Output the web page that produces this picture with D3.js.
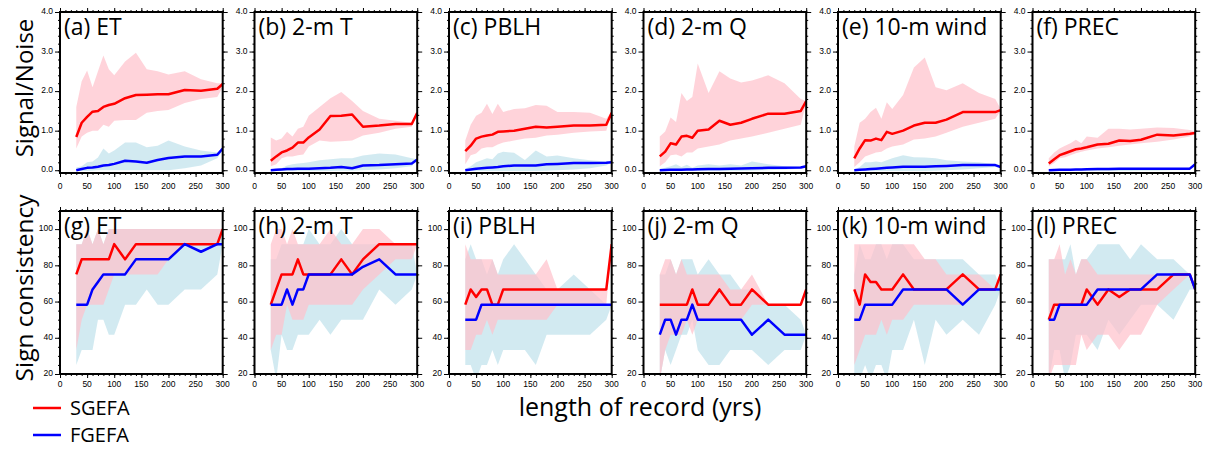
<!DOCTYPE html>
<html><head><meta charset="utf-8">
<script src="https://cdn.jsdelivr.net/npm/d3@7"></script>
<style>body{margin:0;background:#fff}svg{display:block}</style>
</head><body>
<svg id="c" width="1206" height="449"></svg>
<script>
// ---- data ----
const xs = [30,40,50,60,70,80,90,100,120,140,160,180,200,230,260,290,300];
const xTicks = [0,50,100,150,200,250,300];
const snTicks = [0,1,2,3,4];
const scTicks = [20,40,60,80,100];
const titlesTop = ["(a) ET","(b) 2-m T","(c) PBLH","(d) 2-m Q","(e) 10-m wind","(f) PREC"];
const titlesBot = ["(g) ET","(h) 2-m T","(i) PBLH","(j) 2-m Q","(k) 10-m wind","(l) PREC"];
const legendNames = ["SGEFA","FGEFA"];

// Signal/Noise : SGEFA mean / upper / lower, FGEFA mean / upper / lower
const snSG_ET   = [0.84,1.2,1.35,1.48,1.5,1.6,1.65,1.68,1.82,1.9,1.91,1.92,1.92,2.03,2.01,2.06,2.18];
const snSGhi_ET = [1.6,2.25,2.52,2.1,2.5,2.9,2.55,2.4,2.75,2.97,2.55,2.5,2.42,2.5,2.3,2.2,2.2];
const snSGlo_ET = [0.55,0.85,0.95,1.0,1.0,1.15,1.1,1.25,1.27,1.27,1.45,1.5,1.52,1.7,1.8,1.85,2.1];
const snFG_ET   = [0.0,0.03,0.06,0.07,0.09,0.12,0.13,0.16,0.24,0.22,0.19,0.26,0.31,0.35,0.35,0.39,0.55];
const snFGhi_ET = [0.07,0.1,0.2,0.22,0.32,0.55,0.42,0.5,0.7,0.7,0.58,0.62,0.75,0.6,0.5,0.45,0.55];
const snFGlo_ET = [-0.02,-0.02,-0.02,-0.01,0,0,0,0,0,0,0,0,0,0.05,0.12,0.3,0.5];

const snSG_T   = [0.24,0.35,0.45,0.5,0.57,0.7,0.7,0.83,1.03,1.37,1.38,1.41,1.1,1.13,1.17,1.17,1.45];
const snSGhi_T = [0.83,0.75,0.8,0.97,0.85,1.05,1.1,1.38,1.6,1.82,1.98,1.75,1.5,1.3,1.25,1.2,1.45];
const snSGlo_T = [0.1,0.15,0.3,0.35,0.35,0.38,0.4,0.6,0.75,0.72,0.73,0.75,0.88,0.95,1.05,1.1,1.45];
const snFG_T   = [0.0,0.01,0.02,0.03,0.03,0.04,0.04,0.04,0.05,0.06,0.08,0.05,0.12,0.13,0.15,0.17,0.27];
const snFGhi_T = [0.02,0.03,0.05,0.12,0.15,0.17,0.18,0.2,0.25,0.28,0.3,0.3,0.37,0.42,0.4,0.3,0.28];
const snFGlo_T = [-0.02,-0.02,-0.02,-0.02,-0.02,-0.02,-0.02,-0.02,-0.02,-0.02,-0.01,-0.01,0,0.02,0.05,0.1,0.25];

const snSG_P   = [0.48,0.62,0.8,0.85,0.88,0.9,0.97,0.98,1.0,1.05,1.1,1.08,1.1,1.13,1.13,1.15,1.45];
const snSGhi_P = [0.75,1.15,1.38,1.45,1.68,1.42,1.68,1.47,1.55,1.57,1.65,1.63,1.47,1.47,1.45,1.3,1.5];
const snSGlo_P = [0.15,0.38,0.42,0.55,0.58,0.58,0.65,0.7,0.75,0.8,0.82,0.88,0.9,0.95,0.98,1.0,1.45];
const snFG_P   = [0.0,0.02,0.04,0.05,0.06,0.07,0.08,0.1,0.12,0.12,0.12,0.15,0.16,0.18,0.18,0.19,0.2];
const snFGhi_P = [0.04,0.1,0.2,0.25,0.3,0.28,0.42,0.47,0.44,0.26,0.5,0.35,0.37,0.3,0.25,0.22,0.2];
const snFGlo_P = [-0.02,-0.02,-0.02,-0.02,-0.02,-0.02,-0.02,-0.02,-0.02,-0.02,-0.02,-0.01,0,0.02,0.05,0.12,0.2];

const snSG_Q   = [0.35,0.47,0.68,0.65,0.85,0.87,0.82,1.0,1.03,1.25,1.15,1.2,1.3,1.43,1.43,1.5,1.75];
const snSGhi_Q = [0.85,0.98,1.33,1.22,1.95,1.75,1.85,2.7,1.95,2.5,2.32,2.22,2.27,2.4,2.2,1.8,1.75];
const snSGlo_Q = [0.1,0.2,0.38,0.4,0.35,0.45,0.45,0.55,0.6,0.65,0.75,0.8,0.85,0.95,1.05,1.15,1.7];
const snFG_Q   = [0.0,0.005,0.01,0.01,0.015,0.02,0.02,0.025,0.03,0.03,0.04,0.045,0.05,0.06,0.06,0.07,0.1];
const snFGhi_Q = [0.03,0.06,0.1,0.15,0.08,0.14,0.06,0.12,0.15,0.12,0.15,0.12,0.22,0.15,0.1,0.09,0.1];
const snFGlo_Q = [-0.02,-0.02,-0.02,-0.02,-0.02,-0.02,-0.02,-0.02,-0.02,-0.02,-0.02,-0.02,-0.01,0,0.02,0.04,0.08];

const snSG_W   = [0.3,0.55,0.76,0.75,0.8,0.76,0.97,0.92,1.0,1.13,1.2,1.2,1.28,1.47,1.47,1.47,1.52];
const snSGhi_W = [0.6,1.2,1.3,1.47,1.58,1.3,1.72,1.55,1.9,2.6,2.85,2.1,2.02,2.2,1.95,1.8,1.55];
const snSGlo_W = [0.08,0.2,0.35,0.4,0.45,0.47,0.55,0.6,0.65,0.78,0.8,0.85,0.95,1.1,1.2,1.3,1.5];
const snFG_W   = [0.0,0.01,0.02,0.03,0.04,0.05,0.06,0.07,0.09,0.09,0.09,0.1,0.11,0.13,0.13,0.13,0.08];
const snFGhi_W = [0.02,0.08,0.2,0.2,0.22,0.2,0.25,0.3,0.38,0.33,0.32,0.3,0.25,0.22,0.2,0.15,0.1];
const snFGlo_W = [-0.02,-0.02,-0.02,-0.02,-0.02,-0.02,-0.02,-0.02,-0.02,-0.02,-0.02,-0.01,0,0.02,0.05,0.08,0.06];

const snSG_R   = [0.17,0.28,0.38,0.43,0.48,0.53,0.55,0.58,0.65,0.67,0.75,0.74,0.77,0.9,0.88,0.92,0.94];
const snSGhi_R = [0.3,0.45,0.55,0.62,0.68,0.77,0.68,0.85,0.82,1.05,1.05,1.03,1.05,1.08,1.07,1.02,0.97];
const snSGlo_R = [0.1,0.18,0.3,0.33,0.38,0.43,0.47,0.5,0.55,0.58,0.62,0.65,0.68,0.72,0.78,0.85,0.92];
const snFG_R   = [0.0,0.005,0.01,0.012,0.015,0.02,0.02,0.025,0.03,0.03,0.035,0.035,0.035,0.04,0.04,0.04,0.15];
const snFGhi_R = [0.03,0.03,0.03,0.03,0.03,0.03,0.03,0.03,0.04,0.04,0.04,0.04,0.05,0.05,0.05,0.05,0.15];
const snFGlo_R = [-0.02,-0.02,-0.02,-0.02,-0.02,-0.02,-0.02,-0.02,-0.02,-0.02,-0.02,-0.02,-0.01,-0.01,0,0,0.12];

// Sign consistency (%)
const scSG_ET   = [75,83.3,83.3,83.3,83.3,83.3,83.3,91.7,83.3,91.7,91.7,91.7,91.7,91.7,91.7,91.7,100];
const scSGhi_ET = [91.7,91.7,100,91.7,100,91.7,100,100,100,100,100,100,100,100,100,100,100];
const scSGlo_ET = [33.3,50,58.3,58.3,58.3,58.3,66.7,75,75,75,75,75,83.3,91.7,91.7,91.7,100];
const scFG_ET   = [58.3,58.3,58.3,66.7,70.8,75,75,75,75,83.3,83.3,83.3,83.3,91.7,87.5,91.7,91.7];
const scFGhi_ET = [91.7,91.7,100,91.7,100,91.7,100,100,100,100,100,100,100,100,100,100,100];
const scFGlo_ET = [25,33.3,33.3,33.3,50,50,41.7,41.7,58.3,58.3,66.7,58.3,58.3,66.7,66.7,75,91.7];

const scSG_T   = [58.3,66.7,75,75,75,83.3,75,75,75,75,83.3,75,83.3,91.7,91.7,91.7,91.7];
const scSGhi_T = [91.7,100,100,91.7,100,91.7,91.7,91.7,91.7,100,91.7,91.7,100,100,91.7,91.7,91.7];
const scSGlo_T = [33.3,41.7,41.7,58.3,50,50,50,58.3,58.3,58.3,58.3,58.3,66.7,75,83.3,83.3,91.7];
const scFG_T   = [58.3,58.3,58.3,66.7,58.3,66.7,66.7,75,75,75,75,75,79.2,83.3,75,75,75];
const scFGhi_T = [83.3,83.3,91.7,91.7,91.7,91.7,91.7,100,91.7,91.7,100,91.7,91.7,91.7,91.7,91.7,75];
const scFGlo_T = [33.3,16.7,41.7,33.3,33.3,41.7,41.7,41.7,50,41.7,50,50,50,66.7,58.3,66.7,75];

const scSG_P   = [58.3,66.7,62.5,66.7,66.7,58.3,58.3,66.7,66.7,66.7,66.7,66.7,66.7,66.7,66.7,66.7,91.7];
const scSGhi_P = [91.7,83.3,83.3,83.3,83.3,83.3,75,75,75,75,75,83.3,66.7,66.7,66.7,66.7,91.7];
const scSGlo_P = [33.3,33.3,41.7,41.7,50,41.7,50,50,50,50,50,50,58.3,58.3,58.3,58.3,91.7];
const scFG_P   = [50,50,50,58.3,58.3,58.3,58.3,58.3,58.3,58.3,58.3,58.3,58.3,58.3,58.3,58.3,58.3];
const scFGhi_P = [83.3,91.7,83.3,83.3,75,83.3,75,83.3,91.7,83.3,75,66.7,66.7,75,66.7,58.3,58.3];
const scFGlo_P = [25,25,16.7,25,25,33.3,25,33.3,33.3,33.3,25,41.7,41.7,41.7,41.7,50,58.3];

const scSG_Q   = [58.3,58.3,58.3,58.3,58.3,58.3,66.7,58.3,58.3,66.7,58.3,58.3,66.7,58.3,58.3,58.3,66.7];
const scSGhi_Q = [75,83.3,83.3,75,83.3,75,75,75,75,75,66.7,66.7,75,58.3,58.3,58.3,66.7];
const scSGlo_Q = [16.7,33.3,41.7,41.7,41.7,50,41.7,50,50,50,50,50,58.3,58.3,58.3,58.3,66.7];
const scFG_Q   = [41.7,50,50,41.7,50,50,58.3,50,50,50,50,50,41.7,50,41.7,41.7,41.7];
const scFGhi_Q = [75,75,83.3,75,83.3,83.3,83.3,75,83.3,75,75,66.7,66.7,58.3,58.3,50,41.7];
const scFGlo_Q = [16.7,33.3,25,33.3,41.7,41.7,50,33.3,25,25,33.3,33.3,33.3,25,33.3,33.3,41.7];

const scSG_W   = [66.7,58.3,75,70.8,70.8,66.7,66.7,66.7,75,66.7,66.7,66.7,66.7,75,66.7,66.7,75];
const scSGhi_W = [91.7,91.7,91.7,91.7,91.7,91.7,91.7,91.7,91.7,91.7,83.3,83.3,75,75,75,66.7,75];
const scSGlo_W = [25,33.3,41.7,41.7,41.7,50,41.7,50,50,58.3,58.3,58.3,58.3,58.3,66.7,66.7,75];
const scFG_W   = [50,50,58.3,58.3,58.3,58.3,58.3,58.3,66.7,66.7,66.7,66.7,66.7,58.3,66.7,66.7,66.7];
const scFGhi_W = [75,91.7,83.3,83.3,91.7,91.7,83.3,91.7,91.7,83.3,83.3,83.3,83.3,83.3,75,75,66.7];
const scFGlo_W = [16.7,16.7,25,16.7,25,25,16.7,33.3,33.3,50,25,50,41.7,50,41.7,58.3,66.7];

const scSG_R   = [50,58.3,58.3,58.3,58.3,58.3,58.3,66.7,58.3,66.7,62.5,66.7,66.7,66.7,75,75,66.7];
const scSGhi_R = [83.3,83.3,91.7,75,83.3,75,83.3,83.3,75,75,75,75,75,75,75,75,66.7];
const scSGlo_R = [16.7,25,25,25,25,25,41.7,33.3,41.7,41.7,33.3,41.7,41.7,58.3,66.7,75,66.7];
const scFG_R   = [50,50,58.3,58.3,58.3,58.3,58.3,58.3,66.7,66.7,66.7,66.7,66.7,75,75,75,66.7];
const scFGhi_R = [83.3,83.3,83.3,83.3,91.7,75,83.3,83.3,91.7,91.7,91.7,83.3,91.7,83.3,83.3,75,66.7];
const scFGlo_R = [16.7,33.3,33.3,16.7,25,41.7,41.7,41.7,33.3,50,41.7,50,58.3,58.3,50,66.7,66.7];

// ---- assemble ----
const topPanels = [
  [snSG_ET,snSGhi_ET,snSGlo_ET,snFG_ET,snFGhi_ET,snFGlo_ET],
  [snSG_T,snSGhi_T,snSGlo_T,snFG_T,snFGhi_T,snFGlo_T],
  [snSG_P,snSGhi_P,snSGlo_P,snFG_P,snFGhi_P,snFGlo_P],
  [snSG_Q,snSGhi_Q,snSGlo_Q,snFG_Q,snFGhi_Q,snFGlo_Q],
  [snSG_W,snSGhi_W,snSGlo_W,snFG_W,snFGhi_W,snFGlo_W],
  [snSG_R,snSGhi_R,snSGlo_R,snFG_R,snFGhi_R,snFGlo_R]];
const botPanels = [
  [scSG_ET,scSGhi_ET,scSGlo_ET,scFG_ET,scFGhi_ET,scFGlo_ET],
  [scSG_T,scSGhi_T,scSGlo_T,scFG_T,scFGhi_T,scFGlo_T],
  [scSG_P,scSGhi_P,scSGlo_P,scFG_P,scFGhi_P,scFGlo_P],
  [scSG_Q,scSGhi_Q,scSGlo_Q,scFG_Q,scFGhi_Q,scFGlo_Q],
  [scSG_W,scSGhi_W,scSGlo_W,scFG_W,scFGhi_W,scFGlo_W],
  [scSG_R,scSGhi_R,scSGlo_R,scFG_R,scFGhi_R,scFGlo_R]];

const svg = d3.select("#c");
const W = 162.7, step = 194.5, left0 = 60;
const rows = [
  {top:12, bot:173, dom:[-0.07,4.0], ticks:snTicks, minor:d3.range(-0.0,4.01,0.2), fmt:d3.format(".1f"), titles:titlesTop, data:topPanels, lab:14},
  {top:211, bot:374, dom:[20,110], ticks:scTicks, minor:d3.range(20,111,5), fmt:d3.format("d"), titles:titlesBot, data:botPanels, lab:11}
];
const tickFont = "Liberation Sans, Arial, sans-serif";
const bigFont = "'Open Sans', 'Noto Sans', sans-serif";

rows.forEach(r => {
  r.data.forEach((p, i) => {
    const x0 = left0 + i*step;
    const x = d3.scaleLinear().domain([0,300]).range([x0, x0+W]);
    const y = d3.scaleLinear().domain(r.dom).range([r.bot, r.top]);
    const g = svg.append("g");
    const clipId = "clip"+r.top+"_"+i;
    svg.append("clipPath").attr("id", clipId).append("rect")
      .attr("x", x0).attr("y", r.top).attr("width", W).attr("height", r.bot-r.top);
    const pg = g.append("g").attr("clip-path", `url(#${clipId})`);
    const area = (hi, lo) => d3.area().x((d,k)=>x(xs[k])).y0((d,k)=>y(lo[k])).y1((d,k)=>y(hi[k]))(xs);
    const line = (v) => d3.line().x((d,k)=>x(xs[k])).y((d,k)=>y(v[k]))(xs);
    pg.append("path").attr("d", area(p[4], p[5])).attr("fill", "#add8e6").attr("fill-opacity", 0.55);
    pg.append("path").attr("d", area(p[1], p[2])).attr("fill", "#ffc0cb").attr("fill-opacity", 0.7);
    pg.append("path").attr("d", line(p[0])).attr("fill","none").attr("stroke","#ff0000").attr("stroke-width",2.5).attr("stroke-linejoin","round");
    pg.append("path").attr("d", line(p[3])).attr("fill","none").attr("stroke","#0000ff").attr("stroke-width",2.5).attr("stroke-linejoin","round");

    // axes with outward ticks on all sides
    const xMinor = d3.range(0,301,10);
    const mk = (axis, tr) => g.append("g").attr("transform", tr).call(axis)
      .call(s => s.select(".domain").remove())
      .call(s => s.selectAll("line").attr("stroke","#000").attr("stroke-width",1));
    mk(d3.axisBottom(x).tickValues(xMinor).tickSize(2).tickFormat(""), `translate(0,${r.bot})`);
    mk(d3.axisTop(x).tickValues(xMinor).tickSize(2).tickFormat(""), `translate(0,${r.top})`);
    mk(d3.axisBottom(x).tickValues(xTicks).tickSize(4).tickFormat(""), `translate(0,${r.bot})`);
    mk(d3.axisTop(x).tickValues(xTicks).tickSize(4).tickFormat(""), `translate(0,${r.top})`);
    mk(d3.axisLeft(y).tickValues(r.minor).tickSize(2).tickFormat(""), `translate(${x0},0)`);
    mk(d3.axisRight(y).tickValues(r.minor).tickSize(2).tickFormat(""), `translate(${x0+W},0)`);
    mk(d3.axisLeft(y).tickValues(r.ticks).tickSize(5).tickFormat(""), `translate(${x0},0)`);
    mk(d3.axisRight(y).tickValues(r.ticks).tickSize(5).tickFormat(""), `translate(${x0+W},0)`);
    // tick labels
    g.selectAll(".xl").data(xTicks).enter().append("text")
      .attr("x", d=>x(d)).attr("y", r.bot + r.lab).attr("text-anchor","middle").attr("dominant-baseline","middle")
      .attr("font-family", tickFont).attr("font-size", 8.5).attr("fill","#000").text(d=>d);
    g.selectAll(".yl").data(r.ticks).enter().append("text")
      .attr("x", x0-7).attr("y", d=>y(d)).attr("text-anchor","end").attr("dominant-baseline","middle")
      .attr("font-family", tickFont).attr("font-size", 8.5).attr("fill","#000").text(d=>r.fmt(d));
    // frame
    g.append("rect").attr("x", x0).attr("y", r.top).attr("width", W).attr("height", r.bot-r.top)
      .attr("fill","none").attr("stroke","#000").attr("stroke-width",2);
    // title
    g.append("text").attr("x", x0+4).attr("y", r.top+23).attr("font-family", bigFont).attr("font-size", 23)
      .attr("fill","#000").text(r.titles[i]);
  });
});

// axis titles
svg.append("text").attr("transform","translate(33,88) rotate(-90)").attr("text-anchor","middle")
  .attr("font-family", bigFont).attr("font-size", 24).text("Signal/Noise");
svg.append("text").attr("transform","translate(33,288) rotate(-90)").attr("text-anchor","middle")
  .attr("font-family", bigFont).attr("font-size", 24.5).text("Sign consistency");
svg.append("text").attr("x", 640).attr("y", 416).attr("text-anchor","middle")
  .attr("font-family", bigFont).attr("font-size", 25).text("length of record (yrs)");

// legend
const legColors = ["#ff0000","#0000ff"];
legendNames.forEach((n, k) => {
  const ly = 408 + k*27;
  svg.append("line").attr("x1", 33).attr("x2", 61).attr("y1", ly).attr("y2", ly)
    .attr("stroke", legColors[k]).attr("stroke-width", 2.5);
  svg.append("text").attr("x", 70).attr("y", ly+6.5).attr("font-family", bigFont).attr("font-size", 20).text(n);
});
</script>
</body></html>
